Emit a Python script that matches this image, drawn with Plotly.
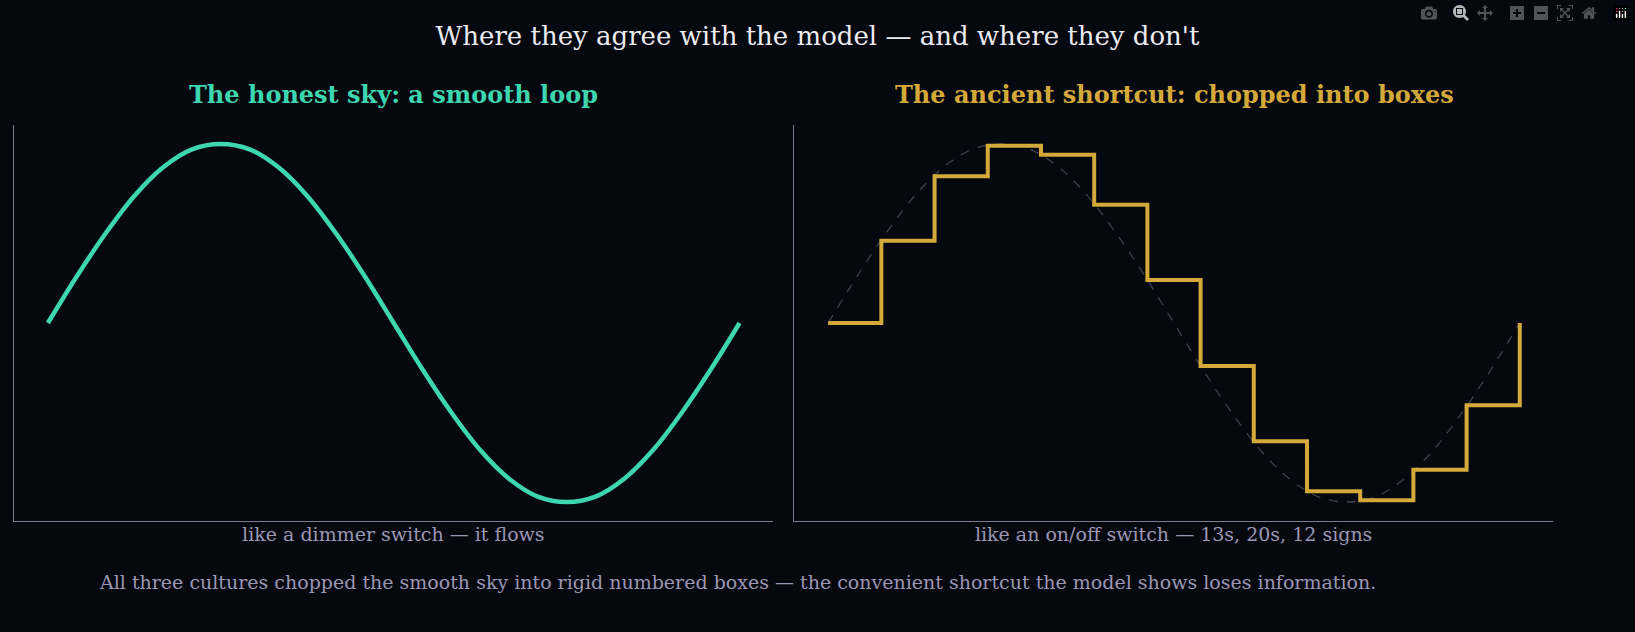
import plotly.graph_objects as go
from plotly.subplots import make_subplots

smooth_x = [i / 24 for i in range(25)]
smooth_y = [0, 0.26, 0.5, 0.71, 0.87, 0.97, 1.0, 0.97, 0.87, 0.71, 0.5, 0.26, 0,
            -0.26, -0.5, -0.71, -0.87, -0.97, -1.0, -0.97, -0.87, -0.71, -0.5, -0.26, 0]
# boxed steps: 13 boxes
step_edges = [i / 13 for i in range(14)]
step_vals = [0, 0.46, 0.82, 0.99, 0.94, 0.66, 0.24, -0.24, -0.66, -0.94, -0.99, -0.82, -0.46]

BG = "#05080f"
fig = make_subplots(rows=1, cols=2, horizontal_spacing=0.014)
fig.add_trace(go.Scatter(x=smooth_x, y=smooth_y, mode="lines", line=dict(color="#3dd6b0", width=4.5, shape="spline")), 1, 1)
fig.add_trace(go.Scatter(x=smooth_x, y=smooth_y, mode="lines", line=dict(color="#3b4052", width=1.3, dash="dash", shape="spline")), 1, 2)
sx = step_edges + [step_edges[-1]]
sy = step_vals + [step_vals[-1], 0]
fig.add_trace(go.Scatter(x=sx, y=sy, mode="lines", line=dict(color="#d4a93a", width=4, shape="hv")), 1, 2)

ax = dict(range=[-0.049, 1.048], showgrid=False, zeroline=False, showticklabels=False,
          showline=True, linecolor="#7d7a92", linewidth=1.2, ticks="")
ay = dict(range=[-1.106, 1.106], showgrid=False, zeroline=False, showticklabels=False,
          showline=True, linecolor="#7d7a92", linewidth=1.2, ticks="")
fig.update_xaxes(**ax)
fig.update_yaxes(**ay)
fig.update_xaxes(title=dict(text="like a dimmer switch — it flows", standoff=6,
                            font=dict(size=19, color="#9b97b3", family="DejaVu Serif")), row=1, col=1)
fig.update_xaxes(title=dict(text="like an on/off switch — 13s, 20s, 12 signs", standoff=6,
                            font=dict(size=19, color="#9b97b3", family="DejaVu Serif")), row=1, col=2)

ann = [
    dict(text="<b>The honest sky: a smooth loop</b>", x=0.2465, y=1.035, xref="paper", yref="paper",
         xanchor="center", showarrow=False, yanchor="bottom", font=dict(size=24, color="#3dd6b0", family="DejaVu Serif")),
    dict(text="<b>The ancient shortcut: chopped into boxes</b>", x=0.754, y=1.035, xref="paper", yref="paper",
         xanchor="center", showarrow=False, yanchor="bottom", font=dict(size=24, color="#d4a93a", family="DejaVu Serif")),
    dict(text="All three cultures chopped the smooth sky into rigid numbered boxes — the convenient shortcut the model shows loses information.",
         x=0.47, xref="paper", y=-0.155, yref="paper", xanchor="center", yanchor="middle", showarrow=False,
         font=dict(size=19, color="#9b97b3", family="DejaVu Serif")),
]
fig.update_layout(
    width=1635, height=632, paper_bgcolor=BG, plot_bgcolor=BG, showlegend=False,
    margin=dict(l=14, r=82, t=125, b=111),
    title=dict(text="Where they agree with the model — and where they don't", x=0.5, xref="container", y=0.958,
               xanchor="center", font=dict(size=26, color="#ecebf0", family="DejaVu Serif")),
    annotations=ann,
)
fig.write_html("out.html", post_script="document.body.style.margin='0';document.body.style.background='#05080f';")
